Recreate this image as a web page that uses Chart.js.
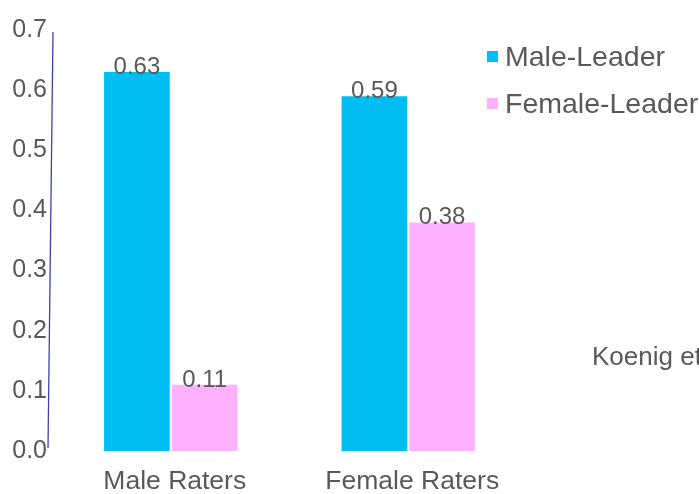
<!DOCTYPE html>
<html>
<head>
<meta charset="utf-8">
<script src="https://cdn.jsdelivr.net/npm/chart.js@4.4.1/dist/chart.umd.min.js"></script>
<style>
  html, body { margin: 0; padding: 0; background: #ffffff; }
  #wrap { width: 699px; height: 494px; position: relative; }
</style>
</head>
<body>
<div id="wrap"><canvas id="c" width="699" height="494"></canvas></div>
<script>
// Rater groups and the share choosing each leader type
const categories = ['Male Raters', 'Female Raters'];
const seriesNames = ['Male-Leader', 'Female-Leader'];
const maleLeader = [0.63, 0.59];
const femaleLeader = [0.11, 0.38];
const yTicks = [0.0, 0.1, 0.2, 0.3, 0.4, 0.5, 0.6, 0.7];
const sourceNote = 'Koenig et al. (2011)';

const BLUE = '#00BEF2';
const PINK = '#FFB1FF';
const TEXT = '#595959';
const FONT = '"Liberation Sans", Arial, sans-serif';

// Numbers printed over each bar
const valueLabels = {
  id: 'valueLabels',
  afterDatasetsDraw(chart) {
    const ctx = chart.ctx;
    ctx.save();
    ctx.font = '24px ' + FONT;
    ctx.fillStyle = TEXT;
    ctx.textAlign = 'center';
    ctx.textBaseline = 'alphabetic';
    chart.data.datasets.forEach((ds, i) => {
      chart.getDatasetMeta(i).data.forEach((bar, j) => {
        ctx.fillText(ds.data[j].toFixed(2), bar.x, bar.y + 2);
      });
    });
    ctx.restore();
  }
};

// Leaning value axis line
const axisLine = {
  id: 'axisLine',
  afterDraw(chart) {
    const a = chart.chartArea;
    const ctx = chart.ctx;
    ctx.save();
    ctx.strokeStyle = '#4040B0';
    ctx.lineWidth = 1.3;
    ctx.beginPath();
    ctx.moveTo(a.left + 1, a.top + 2);
    ctx.lineTo(a.left - 4, a.bottom - 3);
    ctx.stroke();
    ctx.restore();
  }
};

// Legend to the right of the bars, plus the source note
const sideLegend = {
  id: 'sideLegend',
  afterDraw(chart) {
    const a = chart.chartArea;
    const ctx = chart.ctx;
    ctx.save();
    ctx.font = '28.5px ' + FONT;
    ctx.textBaseline = 'middle';
    ctx.textAlign = 'left';
    chart.data.datasets.forEach((ds, i) => {
      const y = a.top + 27 + i * 47;
      ctx.fillStyle = ds.backgroundColor;
      ctx.fillRect(a.right - 40, y - 6, 11, 11);
      ctx.fillStyle = TEXT;
      ctx.fillText(ds.label, a.right - 22, y + 1);
    });
    ctx.font = '26px ' + FONT;
    ctx.fillText(sourceNote, a.right + 65, chart.scales.y.getPixelForValue(0.155));
    ctx.restore();
  }
};

new Chart(document.getElementById('c'), {
  type: 'bar',
  data: {
    labels: categories,
    datasets: [
      { label: seriesNames[0], data: maleLeader, backgroundColor: BLUE },
      { label: seriesNames[1], data: femaleLeader, backgroundColor: PINK }
    ]
  },
  options: {
    responsive: false,
    animation: false,
    devicePixelRatio: 1,
    layout: { padding: { top: 30, right: 172, left: 0, bottom: 0 } },
    datasets: { bar: { categoryPercentage: 0.57, barPercentage: 0.97 } },
    plugins: {
      legend: { display: false },
      tooltip: { enabled: false }
    },
    scales: {
      x: {
        grid: { display: false, drawTicks: false },
        border: { display: false },
        ticks: { color: TEXT, font: { family: FONT, size: 26.5 }, padding: 15, labelOffset: 4 },
        afterFit(s) { s.height = 43; }
      },
      y: {
        min: 0,
        max: 0.7,
        afterBuildTicks(s) { s.ticks = yTicks.map(v => ({ value: v })); },
        grid: { display: false, drawTicks: false },
        border: { display: false },
        ticks: {
          color: TEXT,
          font: { family: FONT, size: 25 },
          padding: 5,
          callback: v => Number(v).toFixed(1)
        },
        afterFit(s) { s.width = 52; }
      }
    }
  },
  plugins: [valueLabels, axisLine, sideLegend]
});
</script>
</body>
</html>
